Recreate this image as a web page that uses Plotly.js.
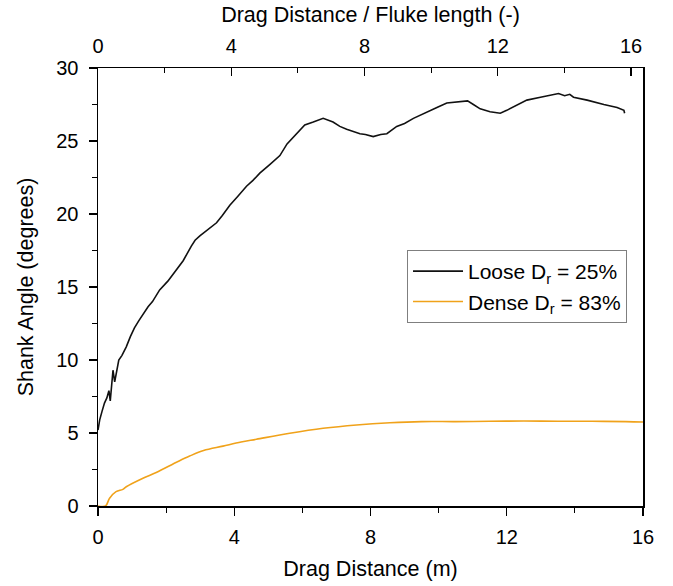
<!DOCTYPE html>
<html>
<head>
<meta charset="utf-8">
<script src="https://cdn.plot.ly/plotly-3.0.1.min.js"></script>
<style>html,body{margin:0;padding:0;background:#fff;}#chart{width:673px;height:586px;}</style>
</head>
<body>
<div id="chart"></div>
<script>
// Drag distance (m) and shank angle (degrees)
var looseX = [0.0, 0.05, 0.12, 0.19, 0.26, 0.32, 0.36, 0.40, 0.44, 0.49, 0.55, 0.61, 0.70, 0.83, 0.95, 1.07, 1.20, 1.33, 1.47, 1.60, 1.81, 2.05, 2.30, 2.50, 2.74, 2.85, 2.99, 3.20, 3.48, 3.65, 3.87, 4.10, 4.36, 4.55, 4.75, 5.05, 5.34, 5.55, 5.78, 6.07, 6.32, 6.61, 6.90, 7.10, 7.30, 7.69, 7.85, 8.08, 8.30, 8.48, 8.77, 9.00, 9.26, 9.65, 9.95, 10.24, 10.63, 10.85, 11.02, 11.22, 11.51, 11.81, 12.00, 12.20, 12.59, 12.99, 13.25, 13.52, 13.70, 13.85, 13.96, 14.36, 14.85, 15.24, 15.44, 15.46];
var looseY = [5.2, 5.9, 6.5, 7.05, 7.4, 7.9, 7.2, 8.4, 9.3, 8.5, 9.4, 10.0, 10.3, 10.9, 11.6, 12.2, 12.7, 13.2, 13.65, 14.0, 14.8, 15.4, 16.2, 16.8, 17.8, 18.2, 18.5, 18.9, 19.4, 19.9, 20.6, 21.2, 21.9, 22.3, 22.8, 23.4, 24.0, 24.8, 25.4, 26.1, 26.3, 26.55, 26.3, 26.0, 25.8, 25.5, 25.45, 25.3, 25.45, 25.5, 26.0, 26.2, 26.55, 27.0, 27.3, 27.6, 27.7, 27.75, 27.5, 27.2, 27.0, 26.9, 27.1, 27.35, 27.8, 28.0, 28.1, 28.25, 28.1, 28.2, 28.0, 27.8, 27.5, 27.3, 27.1, 26.9];
var denseX = [0.0, 0.22, 0.34, 0.53, 0.73, 0.83, 1.32, 1.71, 2.35, 2.69, 3.10, 3.67, 4.20, 4.65, 5.63, 6.61, 7.59, 8.57, 9.50, 10.50, 11.50, 12.50, 13.50, 14.50, 15.50, 16.0];
var denseY = [0.0, 0.0, 0.53, 0.98, 1.14, 1.32, 1.9, 2.3, 3.05, 3.42, 3.8, 4.1, 4.38, 4.57, 4.98, 5.32, 5.55, 5.7, 5.78, 5.78, 5.8, 5.82, 5.8, 5.8, 5.78, 5.75];
var looseName = "Loose D<sub>r</sub> = 25%";
var denseName = "Dense D<sub>r</sub> = 83%";
var xTicks = [0, 4, 8, 12, 16];
var yTicks = [0, 5, 10, 15, 20, 25, 30];
var topTicks = [0, 4, 8, 12, 16];

var FONT = "Liberation Sans, Arial, sans-serif";
var traces = [
  {x: looseX, y: looseY, type: "scatter", mode: "lines", name: looseName,
   line: {color: "#111111", width: 1.6}},
  {x: denseX, y: denseY, type: "scatter", mode: "lines", name: denseName,
   line: {color: "#F0A21A", width: 1.6, shape: "spline"}},
  {x: [], y: [], xaxis: "x2", type: "scatter", mode: "lines", showlegend: false, hoverinfo: "skip"}
];

var layout = {
  width: 673, height: 586,
  margin: {l: 98, r: 30, t: 68, b: 80},
  paper_bgcolor: "#ffffff", plot_bgcolor: "#ffffff",
  font: {family: FONT, size: 20, color: "#000"},
  showlegend: true,
  legend: {x: 0.567, y: 0.5845, xanchor: "left", yanchor: "top",
    bordercolor: "#7f7f7f", borderwidth: 1, bgcolor: "#fff",
    font: {family: FONT, size: 21, color: "#000"}, itemwidth: 50,
    tracegroupgap: 2},
  xaxis: {range: [0, 16], tickvals: xTicks, ticktext: xTicks.map(String),
    ticks: "outside", ticklen: 8, tickwidth: 1.2, tickcolor: "#000",
    minor: {tickvals: [2, 6, 10, 14], ticks: "outside", ticklen: 5, tickwidth: 1.2, tickcolor: "#000"},
    showline: true, linecolor: "#000", linewidth: 1.5, mirror: false,
    showgrid: false, zeroline: false, ticklabelstandoff: 4,
    tickfont: {family: FONT, size: 20},
    title: {text: "Drag Distance (m)", font: {family: FONT, size: 21.5}, standoff: 14}},
  xaxis2: {overlaying: "x", side: "top", range: [0, 16.36], tickvals: topTicks, ticktext: topTicks.map(String),
    ticks: "inside", ticklen: 8, tickwidth: 1.2, tickcolor: "#000",
    minor: {tickvals: [2, 6, 10, 14], ticks: "inside", ticklen: 5, tickwidth: 1.2, tickcolor: "#000"},
    showline: true, linecolor: "#000", linewidth: 1.5,
    showgrid: false, zeroline: false, ticklabelstandoff: 6,
    tickfont: {family: FONT, size: 20},
    title: {text: "Drag Distance / Fluke length (-)", font: {family: FONT, size: 21.5}, standoff: 6}},
  yaxis: {range: [0, 30], tickvals: yTicks, ticktext: yTicks.map(String),
    ticks: "outside", ticklen: 8, tickwidth: 1.2, tickcolor: "#000",
    minor: {tickvals: [2.5, 7.5, 12.5, 17.5, 22.5, 27.5], ticks: "outside", ticklen: 5, tickwidth: 1.2, tickcolor: "#000"},
    showline: true, linecolor: "#000", linewidth: 1.5, mirror: true,
    showgrid: false, zeroline: false, ticklabelstandoff: 6,
    tickfont: {family: FONT, size: 20},
    title: {text: "Shank Angle (degrees)", font: {family: FONT, size: 21.5}, standoff: 16}}
};

Plotly.newPlot("chart", traces, layout, {displayModeBar: false, staticPlot: true});
</script>
</body>
</html>
